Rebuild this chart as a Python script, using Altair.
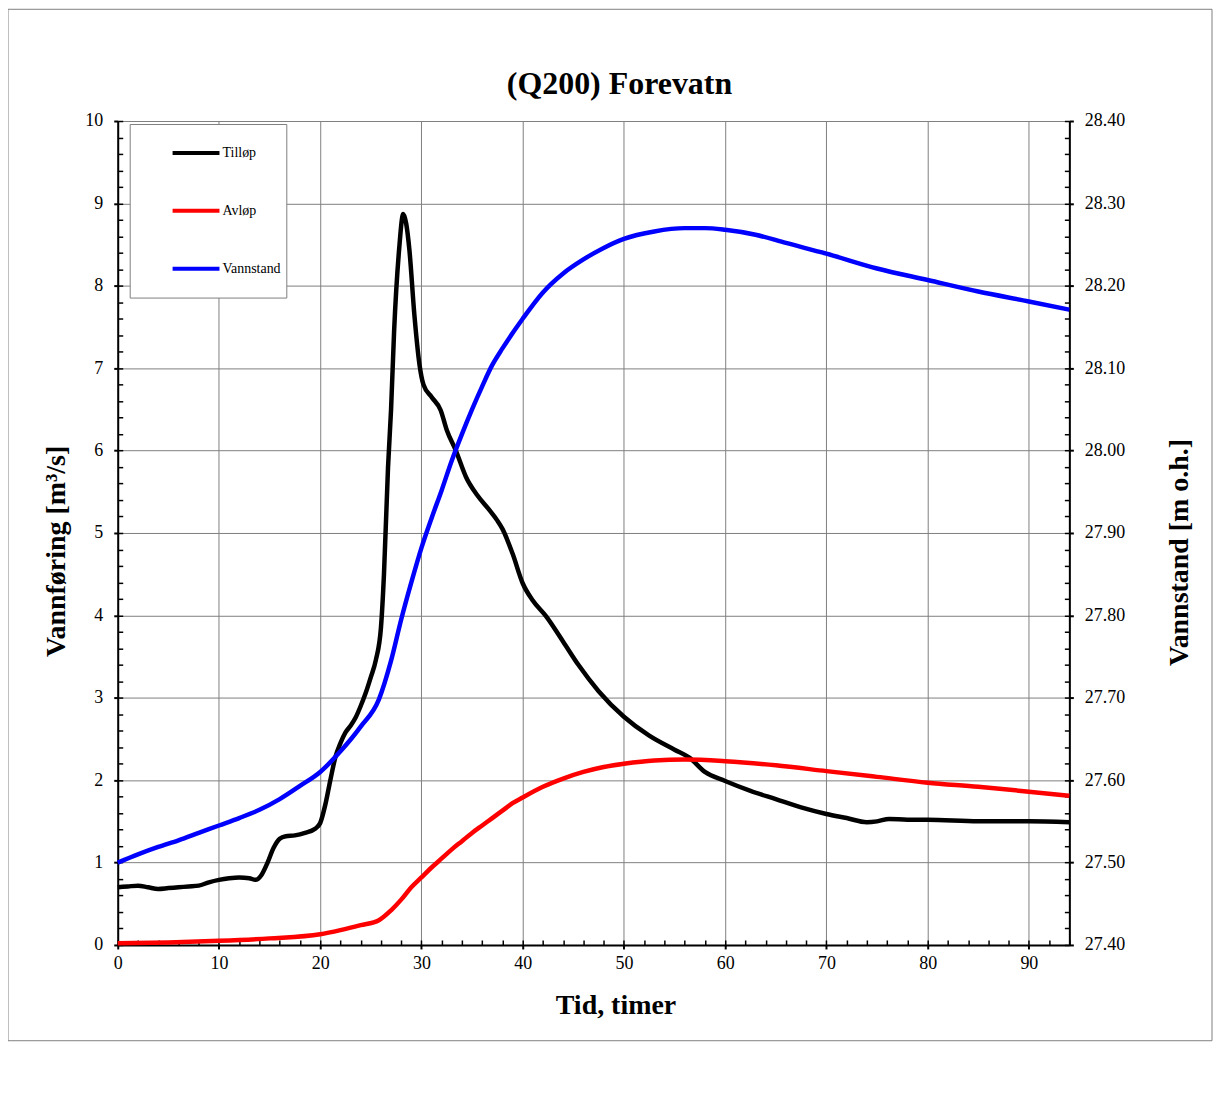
import altair as alt
import pandas as pd

# ---- data ----
series_names = ["Tilløp", "Avløp", "Vannstand"]
series_colors = ["#000000", "#ff0000", "#0000ff"]

# Tilløp (inflow), m3/s
t_in = [0, 1, 2, 3, 4, 5, 6, 7, 8, 9, 10, 11, 12, 13, 13.6, 14.2, 14.8, 15.4, 16, 16.6,
        17.5, 18.5, 19.5, 20, 20.5, 21, 21.5, 22, 22.5, 23, 23.5, 24, 24.5, 25, 25.5, 26,
        26.3, 26.7, 27.0, 27.3, 27.8, 28.2, 28.5, 28.8, 29.3, 29.8, 30.2,
        31, 31.9, 32.5, 33.4, 34.4, 35.5, 36.7, 37.5, 38.0, 39, 40, 41, 42.3,
        44, 45.5, 47.5, 50, 52.5, 55, 56.5, 58, 60,
        62.5, 65, 67.5, 70, 72, 74, 75, 76.2, 78, 80, 85, 90, 94]
q_in = [0.70, 0.71, 0.72, 0.70, 0.68, 0.69, 0.70, 0.71, 0.72, 0.76, 0.79, 0.81, 0.82, 0.81,
        0.79, 0.85, 1.00, 1.18, 1.29, 1.32,
        1.33, 1.36, 1.41, 1.48, 1.70, 2.00, 2.28, 2.45, 2.58, 2.66, 2.76, 2.90, 3.06, 3.25, 3.46, 3.85,
        4.50, 5.80, 6.50, 7.45, 8.45, 8.87, 8.75, 8.45, 7.65, 7.05, 6.80,
        6.65, 6.49, 6.25, 6.00, 5.68, 5.46, 5.28, 5.15, 5.05, 4.75, 4.39, 4.18, 3.99,
        3.68, 3.40, 3.08, 2.77, 2.54, 2.37, 2.27, 2.10, 1.99,
        1.87, 1.77, 1.67, 1.59, 1.54, 1.49, 1.50, 1.53, 1.52, 1.52, 1.50, 1.50, 1.49]

# Avløp (outflow), m3/s
t_out = [0, 5, 10, 15, 20, 22, 24, 25.8, 27, 28, 29, 30, 31, 32, 33, 34, 35, 36, 37, 38, 39, 40,
         42, 44, 46, 48, 50, 53, 56, 60, 65, 70, 75, 80, 85, 90, 94]
q_out = [0.02, 0.03, 0.05, 0.08, 0.13, 0.18, 0.24, 0.30, 0.42, 0.55, 0.70, 0.82, 0.94, 1.05,
         1.16, 1.26, 1.36, 1.45, 1.54, 1.63, 1.72, 1.79,
         1.92, 2.02, 2.10, 2.16, 2.20, 2.24, 2.25, 2.23, 2.18, 2.11, 2.04, 1.97, 1.92, 1.86, 1.81]

# Vannstand (water level), m o.h.
t_h = [0, 2, 4, 6, 8, 10, 12, 14, 16, 18, 20, 22, 24, 25.8, 27, 28, 29, 30, 31, 32, 33, 34, 35,
       36, 37, 38, 40, 42, 44, 46, 48, 50, 53, 56, 58, 60, 63, 66, 70, 75, 80, 85, 90, 94]
h = [27.500, 27.510, 27.519, 27.527, 27.536, 27.545, 27.554, 27.564, 27.577, 27.593, 27.610,
     27.635, 27.665, 27.698, 27.745, 27.795, 27.840, 27.882, 27.918, 27.952, 27.988, 28.020,
     28.050, 28.078, 28.104, 28.124, 28.160, 28.192, 28.215, 28.232, 28.246, 28.257, 28.266,
     28.270, 28.270, 28.268, 28.262, 28.252, 28.239, 28.221, 28.207, 28.193, 28.181, 28.171]

x_major = [0, 10, 20, 30, 40, 50, 60, 70, 80, 90]
x_minor = list(range(0, 95, 2))
q_major = list(range(0, 11))
q_minor = [round(i * 0.2, 2) for i in range(51)]
h_major = [round(27.4 + i * 0.1, 2) for i in range(11)]
h_minor = [round(27.4 + i * 0.02, 2) for i in range(51)]

df_in = pd.DataFrame({"t": t_in, "q": q_in, "s": series_names[0]})
df_out = pd.DataFrame({"t": t_out, "q": q_out, "s": series_names[1]})
df_h = pd.DataFrame({"t": t_h, "h": h, "s": series_names[2]})

FONT = "Liberation Serif"
GRID = "#808080"
LW = 4.5

xs = alt.Scale(domain=[0, 94], nice=False, zero=False)
qs = alt.Scale(domain=[0, 10], nice=False)
hs = alt.Scale(domain=[27.4, 28.4], nice=False, zero=False)
cs = alt.Scale(domain=series_names, range=series_colors)

common_lab = dict(labelFont=FONT, labelFontSize=18, labelColor="black", labelFlush=False,
                  labelOverlap=False)
common_title = dict(titleFont=FONT, titleFontSize=28, titleFontWeight="bold", titleColor="black")

minor_ax = dict(offset=-5, tickSize=5, tickWidth=1.5, tickColor="black", labels=False,
                domain=False, grid=False, title=None)

legend = alt.Legend(
    orient="none", legendX=12, legendY=3, title=None, symbolType="stroke",
    symbolSize=2209, symbolStrokeWidth=4, labelFont=FONT, labelFontSize=14,
    labelColor="black", labelOffset=1, padding=5.5, symbolOffset=35.5, rowPadding=11,
    clipHeight=47, strokeColor=GRID, fillColor="white")

black = alt.Chart(df_in).mark_line(strokeWidth=LW, interpolate="monotone").encode(
    x=alt.X("t:Q", scale=xs, axis=alt.Axis(
        orient="bottom", values=x_major, grid=True, gridColor=GRID, gridWidth=1,
        domainColor="black", domainWidth=2, tickColor="black", tickWidth=2, tickSize=4,
        labelPadding=6, title="Tid, timer", titleX=499, titlePadding=19,
        **common_lab, **common_title)),
    y=alt.Y("q:Q", scale=qs, axis=alt.Axis(
        orient="left", values=q_major, grid=True, gridColor=GRID, gridWidth=1,
        domainColor="black", domainWidth=2, tickColor="black", tickWidth=2, tickSize=4,
        labelPadding=11, title="Vannføring [m³/s]", titleY=431, titlePadding=14,
        **common_lab, **common_title)),
    color=alt.Color("s:N", scale=cs, legend=legend),
)

red = alt.Chart(df_out).mark_line(strokeWidth=LW, interpolate="monotone").encode(
    x=alt.X("t:Q", scale=xs, axis=alt.Axis(orient="bottom", values=x_minor, **minor_ax)),
    y=alt.Y("q:Q", scale=qs, axis=alt.Axis(orient="left", values=q_minor, **minor_ax)),
    color=alt.Color("s:N", scale=cs, legend=legend),
)

blue = alt.Chart(df_h).mark_line(strokeWidth=LW, interpolate="monotone").encode(
    x=alt.X("t:Q", scale=xs, axis=None),
    y=alt.Y("h:Q", scale=hs, axis=alt.Axis(
        orient="right", values=h_major, format=".2f", grid=False,
        domainColor="black", domainWidth=2, tickColor="black", tickWidth=2, tickSize=4,
        labelPadding=11, title="Vannstand [m o.h.]", titleAngle=270, titleY=432,
        titlePadding=69, **common_lab, **common_title)),
    color=alt.Color("s:N", scale=cs, legend=legend),
)

h_ticks = alt.Chart(df_h).mark_line(strokeOpacity=0).encode(
    x=alt.X("t:Q", scale=xs, axis=None),
    y=alt.Y("h:Q", scale=hs, axis=alt.Axis(orient="right", values=h_minor, **minor_ax)),
)

frame = alt.Chart(pd.DataFrame({"k": [0]})).mark_rect(
    fillOpacity=0, stroke=GRID, strokeWidth=1).encode(
    x=alt.value(-110), x2=alt.value(1097), y=alt.value(-112), y2=alt.value(922))

chart = alt.layer(frame, black, red, blue, h_ticks).resolve_scale(
    y="independent").resolve_axis(x="independent", y="independent").properties(
    width=954, height=826,
    padding={"left": 110, "top": 112, "right": 146, "bottom": 100},
    autosize=alt.AutoSizeParams(type="none"),
    title=alt.TitleParams(text="(Q200)  Forevatn", font=FONT, fontSize=32, fontWeight="bold",
                          color="black", anchor="middle", dx=26, offset=-117,
                          baseline="alphabetic"),
).configure_view(stroke="#8a8a8a", strokeWidth=2).configure(background="white")

chart.save("out.html", embed_options={"renderer": "svg", "actions": False})
